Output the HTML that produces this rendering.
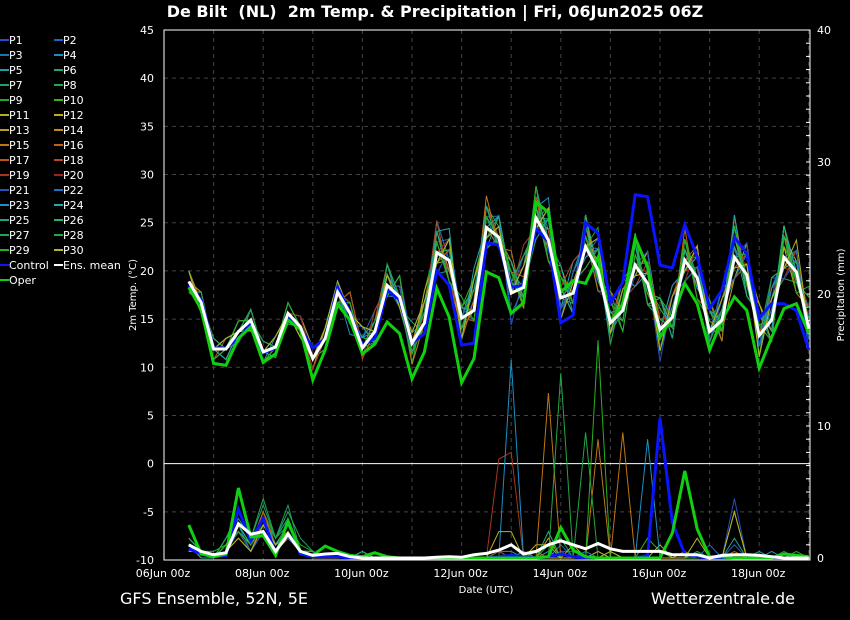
<!DOCTYPE html>
<html><head><meta charset="utf-8"><style>
html,body{margin:0;padding:0;background:#000;}
svg{display:block;font-family:"DejaVu Sans","Liberation Sans",sans-serif;}
</style></head><body>
<svg id="chart" width="850" height="620" viewBox="0 0 850 620" xmlns="http://www.w3.org/2000/svg">
<rect x="0" y="0" width="850" height="620" fill="#000"/>
<text x="435" y="17" fill="#fff" font-size="16" font-weight="bold" text-anchor="middle">De Bilt&#160; (NL)&#160; 2m Temp. &amp; Precipitation | Fri, 06Jun2025 06Z</text>
<g id="grid"></g>
<g id="axes"></g>
<g id="precip"></g>
<g id="temps"></g>
<g id="legend"></g>
<text x="486" y="593" fill="#fff" font-size="10" text-anchor="middle">Date (UTC)</text>
<text transform="translate(136,295) rotate(-90)" fill="#fff" font-size="10" text-anchor="middle">2m Temp. (°C)</text>
<text transform="translate(844,295) rotate(-90)" fill="#fff" font-size="10" text-anchor="middle">Precipitation (mm)</text>
<text x="120" y="604" fill="#fff" font-size="16">GFS Ensemble, 52N, 5E</text>
<text x="795" y="604" fill="#fff" font-size="16" text-anchor="end">Wetterzentrale.de</text>
</svg>
<script>
const dateLabels = ["06Jun 00z","08Jun 00z","10Jun 00z","12Jun 00z","14Jun 00z","16Jun 00z","18Jun 00z"];
const tempTicks = [-10,-5,0,5,10,15,20,25,30,35,40,45];
const precipTicks = [0,10,20,30,40];
const meanTemp = [18.9,16.7,11.9,11.9,13.7,14.9,11.6,12.1,15.6,14.2,10.9,13,17.8,15.6,12,13.7,18.5,17.3,12.5,14.6,21.9,21.1,15.1,15.9,24.5,23.5,17.7,18.3,25.5,23.2,17.2,17.7,22.5,20.1,14.6,15.9,20.6,18.7,13.9,15.2,21.1,19.3,13.7,14.9,21.4,19.6,13.3,14.9,21.4,19.9,14];
const controlTemp = [18.5,17,12,12,13,14.5,11.5,12,15.2,14,12,13,18.3,15.7,12.3,13,18,17,12.5,13.5,20,18.5,12.3,12.5,22.9,22.7,18.3,18.5,24.4,23,14.6,15.4,25,23.9,16.7,18.8,27.9,27.7,20.6,20.3,24.8,21.5,16.1,18,23.5,21.8,15.1,16.6,16.6,15.9,11.8];
const operTemp = [18.3,16,10.4,10.2,13,14.2,10.5,11.4,14.9,13.9,8.7,11.8,16.5,14.9,11.4,12.4,14.7,13.5,8.8,11.6,18.2,15.2,8.4,10.9,19.9,19.3,15.6,16.7,27.1,26.1,17.8,19,18.7,21.4,14.7,16.6,23.4,20.4,13.1,15.2,18.7,16.6,11.8,14.9,17.3,15.9,9.9,13.1,16.1,16.6,13.5];
const meanPrecip = [1.0,0.5,0.25,0.4,2.6,1.8,2.0,0.5,1.8,0.5,0.2,0.3,0.35,0.1,0,0,0,0,0,0,0.05,0.1,0.05,0.25,0.35,0.6,1.0,0.3,0.5,1.0,1.3,1.0,0.7,1.1,0.7,0.5,0.5,0.5,0.5,0.25,0.25,0.25,0,0.2,0.25,0.25,0.2,0.1,0,0,0];
const controlPrecip = [0.7,0.3,0.1,0.2,3.7,1.3,3.0,0.3,2.8,0.3,0.1,0.1,0.1,0,0,0,0,0,0,0,0,0,0,0,0,0.1,0.2,0.1,0,0.1,0.3,0.1,0,0,0,0,0,0.2,10.6,2.7,0.3,0.1,0,0,0,0,0.1,0,0,0,0.1];
const operPrecip = [2.5,0.3,0.1,0.3,5.3,1.6,1.7,0.2,2.8,0.5,0.2,0.9,0.5,0.2,0.1,0.4,0.1,0,0,0,0,0,0,0,0,0,0,0,0,0.1,2.3,0.6,0.1,0,0,0,0,0,0,1.9,6.6,2.2,0.1,0.1,0,0,0,0,0.3,0.2,0.1];
// member temperature deviation from mean: char digit d -> (d-4)*1.1 °C
const memberTempDev = [
"443454345443454534562535461537347264351627253637452",
"544345434554345643435646354626453735462536354726543",
"454543454345536345347453562437354637253546372645354",
"345434543454425534562346436358265436374625362537463",
"434544354543346453453547265346374526354736452638354",
"543435445435364354546354537265437354627354635264745",
"454345434544435463637254365426453634725346352736354",
"345454345435546354264356437354526372546354627346235",
"434543454354453645375243654637354826354637253648263",
"543454345443364536246357436254637354726354637263545",
"454345434554435354563425637345264536374625436372654",
"345434543445546453374536245736452635473625364573526",
"434545434354435364453627354652736453627364532746354",
"543454345435364545365234547363527354637254736452637",
"454343454544453436246354738254635274635463728354637",
"345454345445354563354625436547352637465372635463726",
"443545434354536354463527354726453647253647362547364",
"534434543445364536357243645362574635264735463627354",
"445454345434453645463627354835264736452637354628346",
"354543454545435354354636245637452637354627364537263",
"443434543454536445362546354726354635473625364738254",
"534545434345354536453627354637264735462536472635463",
"445454345454435463364536245726453637254736354627354",
"354343454345546354456728465374526354637253648263745",
"443454345454354536346254637354726354637264535462736",
"534545434345435364453627354652637453627354637264735",
"445434543454546453364536245736452637462537354628354",
"354545434345435364453627356472635463725364736452637",
"443454345454354536345263546372645362537462537354628",
"534543454345546453463627354637254736352637463526374"
];
// member precipitation: base36 char v -> v*0.5 mm
const memberPrecip = [
"21024252410000000000000000000010100000000000900000",
"11013142310000000000000000001011000000000000200000",
"21125162510000100000000001000020010000000000000000",
"31024252511000000000000000000000000000000100000000",
"20036363610000100000000000000100001000000000000100",
"21024252410000000000000001100000000000000000000000",
"31037383731000000000000000000000000000000000000000",
"20024262411000000000000000010230000000000100000001",
"31125273521000000000000000000000100000000000000000",
"21035262510000000000000000000000000003100000000000",
"11024141310000000000000000002202000000200000000000",
"21014252410000000000000000000000010000000000700000",
"31024272511000000000000000000300000000000000000000",
"20013152410000000000000000000000000000001000000000",
"21024262510000000000000000000p000i0j000000000000000",
"11014272410000000000000000001000000000000000100000",
"21024152410000000000000000000000000000000000000000",
"31024262510000000000000001000000000000000000000000",
"2002425241000000000000000fg00000000000000000000000",
"21024162410000000000000000000000000000000000000000",
"21024142310000000000000000000000000000000000000000",
"11014252410000000000000000000000100000000020000000",
"31025262510000000000000000u0000000000i000000000000",
"21024252410000000000000000000000000000000000001000",
"20024262510000000000000000010000000000000000300000",
"31025262511000100000000000000400000000000000000000",
"21037393810000000000000000000000000000000000000000",
"210242524100000000000000000000s0j00000000000000010",
"210242524110000000000000000000000x0000000000000000",
"11013152410000000000000004400000001000000300700000"
];
const memberColors = ["#2050c8","#1e62c4","#1a74b8","#1890bc","#1ea0a8","#20a080","#20a064","#22a848","#20a828","#38b018","#b0b020","#c0ac14","#c09c14","#c08c14","#c07614","#c06414","#c05414","#b84424","#a83424","#982424","#2254c4","#1a72c4","#1a90c4","#20a8b0","#20a288","#20b070","#20a454","#22a840","#28b020","#b4b420"];

const NS = "http://www.w3.org/2000/svg";
const X0 = 164, X1 = 810, Y0 = 30, Y1 = 560;
const stepPx = 12.4, startIdx = 2;
function xOf(i){ return X0 + (i + startIdx) * stepPx; }
function yTemp(v){ return Y1 - (v + 10) * (Y1 - Y0) / 55; }
function yPrec(v){ return 558 - v * 13.2; }
function mk(tag, attrs, parent){ const e = document.createElementNS(NS, tag); for (const k in attrs) e.setAttribute(k, attrs[k]); parent.appendChild(e); return e; }

const grid = document.getElementById("grid"), axes = document.getElementById("axes");
for (let d = 1; d < 14; d++) {
  const gx = X0 + d * 4 * stepPx;
  const gl = mk("line", {x1: gx, x2: gx, y1: Y0, y2: Y1, stroke: "#444", "stroke-dasharray": "4,4", "stroke-width": 1}, grid);
  
  
}
tempTicks.forEach(t => {
  const y = yTemp(t);
  if (t !== -10 && t !== 45 && t !== 0) {
    const hl = mk("line", {x1: X0, x2: X1, y1: y, y2: y, stroke: "#444", "stroke-dasharray": "4,4"}, grid);
    
    
  }
  const tl = mk("text", {x: 154, y: y + 4, fill: "#fff", "font-size": 11, "text-anchor": "end"}, axes);
  tl.textContent = t;
  
  
});
const zl = mk("line", {x1: X0, x2: X1, y1: yTemp(0), y2: yTemp(0), stroke: "#fff", "stroke-width": 1}, axes);


const frame = mk("rect", {x: X0, y: Y0, width: X1 - X0, height: Y1 - Y0, fill: "none", stroke: "#fff", "stroke-width": 1}, axes);


for (let m = 0; m <= 40; m++) {
  const y = yPrec(m);
  const mt = mk("line", {x1: X1 - 4, x2: X1, y1: y, y2: y, stroke: "#fff", "stroke-width": 1}, axes);
  
  
}
precipTicks.forEach(p => {
  const pl = mk("text", {x: 817, y: yPrec(p) + 4, fill: "#fff", "font-size": 11}, axes);
  pl.textContent = p;
  
  
});
dateLabels.forEach((lab, k) => {
  const xl = mk("text", {x: X0 + k * 8 * stepPx - 1, y: 577, fill: "#fff", "font-size": 11, "text-anchor": "middle"}, axes);
  xl.textContent = lab;
  
  
});

function pathFrom(vals, yf){ return vals.map((v, i) => (i ? "L" : "M") + xOf(i).toFixed(1) + "," + yf(v).toFixed(1)).join(""); }
function dec36(s, n){ const out = []; for (let i = 0; i < n; i++) { const c = s[i]; out.push(c ? parseInt(c, 36) * 0.5 : 0); } return out; }
function decDev(s, base){ return base.map((b, i) => b + (s[i] ? (parseInt(s[i], 10) - 4) * 1.1 : 0)); }

const pg = document.getElementById("precip"), tg = document.getElementById("temps");
memberColors.forEach((c, k) => {
  const pv = dec36(memberPrecip[k], meanPrecip.length);
  const pp = mk("path", {d: pathFrom(pv, yPrec), fill: "none", stroke: c, "stroke-width": 1}, pg);
  
  
});
memberColors.forEach((c, k) => {
  const tv = decDev(memberTempDev[k], meanTemp);
  const tp = mk("path", {d: pathFrom(tv, yTemp), fill: "none", stroke: c, "stroke-width": 1}, tg);
  
  
});
const cp = mk("path", {d: pathFrom(controlPrecip, yPrec), fill: "none", stroke: "#0a14ff", "stroke-width": 3}, pg);


const op = mk("path", {d: pathFrom(operPrecip, yPrec), fill: "none", stroke: "#10d010", "stroke-width": 3}, pg);


const mp = mk("path", {d: pathFrom(meanPrecip, yPrec), fill: "none", stroke: "#fff", "stroke-width": 3}, pg);


const ct = mk("path", {d: pathFrom(controlTemp, yTemp), fill: "none", stroke: "#0a14ff", "stroke-width": 3}, tg);


const ot = mk("path", {d: pathFrom(operTemp, yTemp), fill: "none", stroke: "#10d010", "stroke-width": 3}, tg);


const mt2 = mk("path", {d: pathFrom(meanTemp, yTemp), fill: "none", stroke: "#fff", "stroke-width": 3}, tg);



const lg = document.getElementById("legend");
const entries = memberColors.map((c, k) => ["P" + (k + 1), c]).concat([["Control", "#0a14ff"], ["Ens. mean", "#fff"], ["Oper", "#10d010"]]);
entries.forEach((e, k) => {
  const col = k % 2, row = Math.floor(k / 2);
  const lx = col ? 54 : 0, ly = 40 + row * 15;
  const ln = mk("line", {x1: lx, x2: lx + 9, y1: ly, y2: ly, stroke: e[1], "stroke-width": 2}, lg);
  
  
  const tx = mk("text", {x: lx + 9, y: ly + 4, fill: "#fff", "font-size": 11}, lg);
  tx.textContent = e[0];
  
  
});
</script>
</body></html>
